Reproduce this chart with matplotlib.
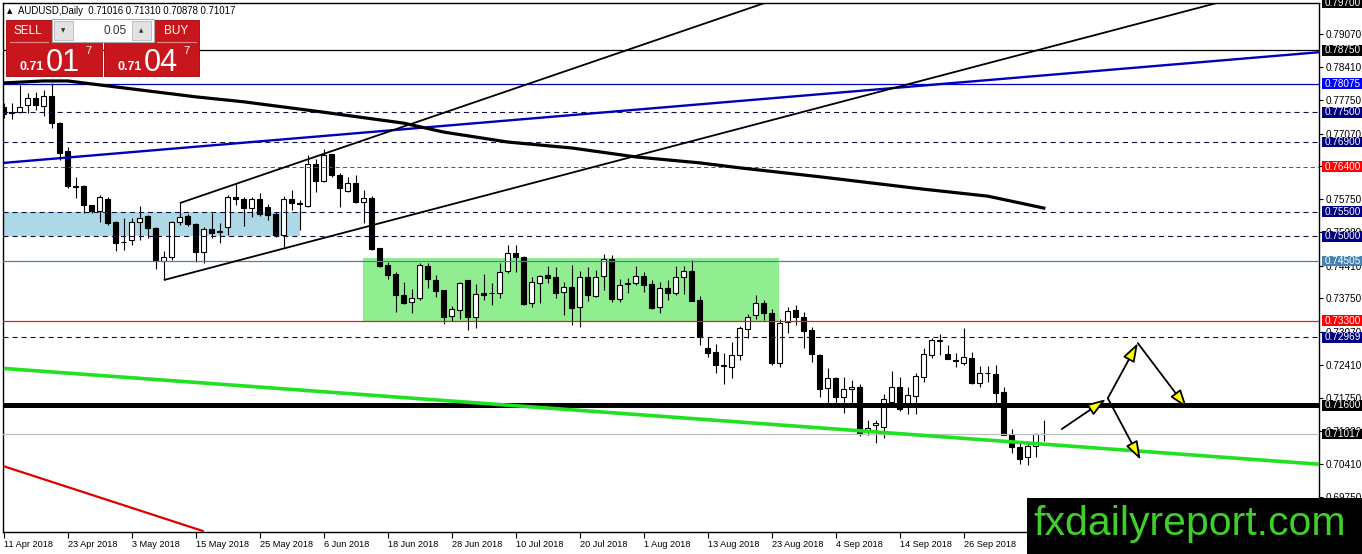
import matplotlib
matplotlib.use('Agg')
import numpy as np
import matplotlib.pyplot as plt
from matplotlib.patches import Rectangle

plt.rcParams['font.family'] = ['Liberation Sans', 'DejaVu Sans']
plt.rcParams['lines.scale_dashes'] = False

# ---- daily candles AUDUSD, 11 Apr 2018 .. 10 Oct 2018
opens = [0.7761, 0.7750, 0.7750, 0.7765, 0.7779, 0.7763, 0.7783, 0.7728, 0.7672, 0.7601,
         0.7601, 0.7563, 0.7551, 0.7575, 0.7529, 0.7489, 0.7493, 0.7529, 0.7541, 0.7517,
         0.7450, 0.7458, 0.7529, 0.7541, 0.7525, 0.7468, 0.7515, 0.7509, 0.7519, 0.7579,
         0.7575, 0.7557, 0.7575, 0.7559, 0.7545, 0.7503, 0.7575, 0.7567, 0.7561, 0.7646,
         0.7611, 0.7666, 0.7624, 0.7591, 0.7607, 0.7569, 0.7577, 0.7476, 0.7442, 0.7424,
         0.7382, 0.7368, 0.7376, 0.7440, 0.7412, 0.7392, 0.7340, 0.7352, 0.7412, 0.7338,
         0.7386, 0.7386, 0.7386, 0.7430, 0.7466, 0.7458, 0.7366, 0.7406, 0.7422, 0.7418,
         0.7388, 0.7398, 0.7358, 0.7418, 0.7380, 0.7420, 0.7454, 0.7374, 0.7404, 0.7406,
         0.7420, 0.7404, 0.7358, 0.7396, 0.7386, 0.7418, 0.7430, 0.7372, 0.7275, 0.7267,
         0.7239, 0.7237, 0.7261, 0.7313, 0.7342, 0.7366, 0.7346, 0.7245, 0.7327, 0.7352,
         0.7338, 0.7311, 0.7261, 0.7195, 0.7215, 0.7176, 0.7193, 0.7197, 0.7108, 0.7120,
         0.7116, 0.7166, 0.7197, 0.7156, 0.7178, 0.7217, 0.7261, 0.7289, 0.7263, 0.7249,
         0.7245, 0.7255, 0.7205, 0.7225, 0.7223, 0.7187, 0.7102, 0.7076, 0.7056, 0.7078,
         0.71016]
highs = [0.7769, 0.7769, 0.7805, 0.7789, 0.7791, 0.7795, 0.7809, 0.7730, 0.7680, 0.7620,
         0.7603, 0.7564, 0.7583, 0.7579, 0.7530, 0.7537, 0.7537, 0.7561, 0.7543, 0.7518,
         0.7470, 0.7531, 0.7567, 0.7545, 0.7527, 0.7519, 0.7547, 0.7527, 0.7583, 0.7605,
         0.7579, 0.7579, 0.7587, 0.7565, 0.7549, 0.7581, 0.7593, 0.7573, 0.7664, 0.7656,
         0.7676, 0.7666, 0.7628, 0.7620, 0.7624, 0.7593, 0.7581, 0.7476, 0.7448, 0.7428,
         0.7408, 0.7394, 0.7446, 0.7446, 0.7422, 0.7392, 0.7360, 0.7408, 0.7412, 0.7404,
         0.7424, 0.7406, 0.7446, 0.7483, 0.7483, 0.7460, 0.7418, 0.7422, 0.7440, 0.7438,
         0.7408, 0.7442, 0.7430, 0.7438, 0.7432, 0.7464, 0.7462, 0.7414, 0.7416, 0.7440,
         0.7428, 0.7412, 0.7408, 0.7412, 0.7440, 0.7440, 0.7452, 0.7380, 0.7297, 0.7283,
         0.7265, 0.7287, 0.7319, 0.7344, 0.7382, 0.7372, 0.7354, 0.7334, 0.7358, 0.7362,
         0.7348, 0.7317, 0.7263, 0.7235, 0.7217, 0.7217, 0.7211, 0.7203, 0.7130, 0.7130,
         0.7183, 0.7229, 0.7217, 0.7197, 0.7225, 0.7275, 0.7295, 0.7303, 0.7281, 0.7265,
         0.7315, 0.7267, 0.7239, 0.7239, 0.7241, 0.7197, 0.7112, 0.7086, 0.7086, 0.7104,
         0.71310]
lows = [0.7738, 0.7736, 0.7748, 0.7748, 0.7754, 0.7742, 0.7718, 0.7654, 0.7597, 0.7577,
        0.7547, 0.7547, 0.7529, 0.7523, 0.7471, 0.7472, 0.7483, 0.7493, 0.7497, 0.7434,
        0.7414, 0.7452, 0.7523, 0.7521, 0.7448, 0.7446, 0.7497, 0.7487, 0.7503, 0.7563,
        0.7521, 0.7539, 0.7541, 0.7533, 0.7499, 0.7479, 0.7553, 0.7513, 0.7559, 0.7589,
        0.7609, 0.7620, 0.7559, 0.7589, 0.7567, 0.7527, 0.7472, 0.7438, 0.7414, 0.7348,
        0.7364, 0.7346, 0.7372, 0.7396, 0.7378, 0.7323, 0.7330, 0.7334, 0.7311, 0.7315,
        0.7372, 0.7362, 0.7376, 0.7426, 0.7428, 0.7362, 0.7358, 0.7366, 0.7406, 0.7376,
        0.7342, 0.7321, 0.7317, 0.7370, 0.7378, 0.7392, 0.7368, 0.7368, 0.7386, 0.7402,
        0.7388, 0.7354, 0.7346, 0.7372, 0.7382, 0.7384, 0.7370, 0.7281, 0.7257, 0.7225,
        0.7203, 0.7215, 0.7251, 0.7295, 0.7334, 0.7332, 0.7241, 0.7237, 0.7305, 0.7321,
        0.7275, 0.7247, 0.7176, 0.7162, 0.7164, 0.7144, 0.7164, 0.7098, 0.7100, 0.7084,
        0.7094, 0.7164, 0.7148, 0.7142, 0.7142, 0.7207, 0.7255, 0.7261, 0.7253, 0.7237,
        0.7241, 0.7203, 0.7197, 0.7207, 0.7164, 0.7100, 0.7064, 0.7042, 0.7040, 0.7056,
        0.70878]
closes = [0.7746, 0.7749, 0.7761, 0.7779, 0.7765, 0.7783, 0.7728, 0.7668, 0.7601, 0.7599,
          0.7563, 0.7551, 0.7579, 0.7527, 0.7487, 0.7488, 0.7529, 0.7537, 0.7517, 0.7450,
          0.7458, 0.7529, 0.7539, 0.7525, 0.7468, 0.7515, 0.7507, 0.7510, 0.7579, 0.7575,
          0.7557, 0.7575, 0.7545, 0.7543, 0.7503, 0.7575, 0.7567, 0.7566, 0.7646, 0.7611,
          0.7664, 0.7624, 0.7597, 0.7607, 0.7569, 0.7577, 0.7474, 0.7440, 0.7422, 0.7382,
          0.7366, 0.7376, 0.7442, 0.7414, 0.7390, 0.7338, 0.7354, 0.7406, 0.7338, 0.7384,
          0.7382, 0.7385, 0.7428, 0.7466, 0.7458, 0.7364, 0.7408, 0.7420, 0.7416, 0.7386,
          0.7398, 0.7356, 0.7418, 0.7382, 0.7418, 0.7454, 0.7374, 0.7402, 0.7406, 0.7420,
          0.7402, 0.7356, 0.7396, 0.7386, 0.7418, 0.7430, 0.7370, 0.7297, 0.7265, 0.7241,
          0.7240, 0.7261, 0.7315, 0.7338, 0.7366, 0.7346, 0.7245, 0.7325, 0.7350, 0.7338,
          0.7309, 0.7263, 0.7193, 0.7215, 0.7176, 0.7193, 0.7197, 0.7104, 0.7114, 0.7124,
          0.7172, 0.7197, 0.7152, 0.7180, 0.7219, 0.7263, 0.7291, 0.7291, 0.7253, 0.7250,
          0.7257, 0.7205, 0.7225, 0.7224, 0.7185, 0.7100, 0.7076, 0.7052, 0.7078, 0.7102,
          0.71017]

date_idx = [0, 8, 16, 24, 32, 40, 48, 56, 64, 72, 80, 88, 96, 104, 112, 120]
date_labels = ['11 Apr 2018', '23 Apr 2018', '3 May 2018', '15 May 2018', '25 May 2018',
               '6 Jun 2018', '18 Jun 2018', '28 Jun 2018', '10 Jul 2018', '20 Jul 2018',
               '1 Aug 2018', '13 Aug 2018', '23 Aug 2018', '4 Sep 2018', '14 Sep 2018',
               '26 Sep 2018']

# right scale
price_ticks = [0.79070, 0.78410, 0.77750, 0.77070, 0.76410, 0.75750, 0.75080, 0.74410,
               0.73750, 0.73070, 0.72410, 0.71750, 0.71080, 0.70410, 0.69750]
levels = [0.79700, 0.78750, 0.78075, 0.77500, 0.76900, 0.76400, 0.75500, 0.75000,
          0.74505, 0.73300, 0.72969, 0.71600, 0.71017]

# slow moving average (sampled along the curve)
ma_idx = [0, 5, 8, 12, 24, 30, 40, 50, 55, 63, 71, 79, 87, 92, 102, 115, 123, 130]
ma_val = [0.7809, 0.7813, 0.7813, 0.7805, 0.7781, 0.7771, 0.7750, 0.7728, 0.7710, 0.7690,
          0.7678, 0.7660, 0.7648, 0.7638, 0.7620, 0.7595, 0.7581, 0.7557]

# trend lines (bar index, price)
blue_trend = [(0, 0.7648), (164.5, 0.7871)]
green_trend = [(0, 0.7234), (164.5, 0.7041)]
red_trend = [(0, 0.7037), (25, 0.6906)]
channel_steep = [(22, 0.7567), (100, 0.7997)]
channel_flat = [(20, 0.7412), (158, 0.7997)]

# zones (bar from, bar to, price low, price high)
blue_zone = (-1, 37, 0.7500, 0.7550)
green_zone = (44.9, 96.9, 0.7330, 0.7456)

# scenario arrows (start, end)
arrows = [((132.25, 0.7112), (137.75, 0.7172)),
          ((138.0, 0.7174), (141.75, 0.7285)),
          ((141.75, 0.7285), (147.9, 0.7154)),
          ((138.0, 0.7174), (142.1, 0.7050))]

W, H = 1362, 554
fig = plt.figure(figsize=(W / 100, H / 100), dpi=100)
ax = fig.add_axes([3 / W, 1 - 532 / H, 1316 / W, 529 / H])
ax.set_xlim(-0.1, 164.4)
ax.set_ylim(0.69046, 0.79700)

n = len(opens)
x = np.arange(n)
o = np.array(opens)
c = np.array(closes)

# zones
for z, col in [(blue_zone, '#add8e6'), (green_zone, '#90ee90')]:
    ax.add_patch(Rectangle((z[0], z[2]), z[1] - z[0], z[3] - z[2], fc=col, ec='none', zorder=1))

# candles
ax.vlines(x, lows, highs, color='black', lw=0.8, zorder=3)
body_low = np.minimum(o, c)
body_h = np.maximum(np.abs(c - o), 0.00003)
cols = ['white' if cc >= oo else 'black' for oo, cc in zip(o, c)]
ax.bar(x, body_h, width=0.62, bottom=body_low, color=cols, edgecolor='black',
       linewidth=0.8, zorder=4)

# horizontal levels
dash = (0, (3.6, 2.9))
styles = {
    0.78750: dict(color='black', lw=0.9, ls='-'),
    0.78075: dict(color='#0000cc', lw=0.9, ls='-'),
    0.77500: dict(color='#101040', lw=0.8, ls=dash),
    0.76900: dict(color='#101040', lw=0.8, ls=dash),
    0.76400: dict(color='#cc2222', lw=0.7, ls=(0, (3.0, 2.2))),
    0.75500: dict(color='#101040', lw=0.8, ls=dash),
    0.75000: dict(color='#101040', lw=0.8, ls=dash),
    0.74505: dict(color='#4682b4', lw=0.9, ls='-'),
    0.73300: dict(color='#dd2020', lw=0.9, ls='-'),
    0.72969: dict(color='#101040', lw=0.8, ls=dash),
    0.71600: dict(color='black', lw=3.6, ls='-'),
    0.71017: dict(color='#c0c0c0', lw=0.9, ls='-'),
}
for lv, st in styles.items():
    ax.axhline(lv, zorder=5, **st)

# trend lines and average
for pts, col, lw in [(blue_trend, '#0000bb', 1.7), (green_trend, '#22e022', 2.6),
                     (red_trend, '#dd0000', 1.6), (channel_steep, 'black', 1.3),
                     (channel_flat, 'black', 1.3)]:
    ax.plot([p[0] for p in pts], [p[1] for p in pts], color=col, lw=lw, zorder=6,
            solid_capstyle='butt')
ax.plot(ma_idx, ma_val, color='black', lw=2.3, zorder=6)

for start, end in arrows:
    ax.annotate('', xy=end, xytext=start, zorder=7,
                arrowprops=dict(arrowstyle='-|>,head_length=0.7,head_width=0.24',
                                mutation_scale=16, fc='#ffff00', ec='black', lw=1.3,
                                shrinkA=0, shrinkB=0))

# axes look
for sp in ax.spines.values():
    sp.set_color('black')
    sp.set_linewidth(1.0)
ax.yaxis.tick_right()
ax.set_yticks(price_ticks)
ax.set_yticklabels(['%.5f' % p for p in price_ticks])
ax.set_xticks(date_idx)
ax.set_xticklabels(date_labels)
for lab in ax.get_xticklabels():
    lab.set_ha('left')
ax.tick_params(axis='y', direction='out', length=3, width=0.8, pad=2, labelsize=7.2)
ax.tick_params(axis='x', direction='out', length=4, width=0.8, pad=1.5, labelsize=6.6)

# coloured price labels on the right scale
lab_col = {0.79700: 'black', 0.78750: 'black', 0.78075: '#0000ff', 0.77500: '#000080',
           0.76900: '#000080', 0.76400: '#ff0000', 0.75500: '#000080', 0.75000: '#000080',
           0.74505: '#4682b4', 0.73300: '#ff0000', 0.72969: '#000080', 0.71600: 'black',
           0.71017: 'black'}
tr = ax.get_yaxis_transform()
bh = 0.00108
for lv in levels:
    ax.add_patch(Rectangle((1.0023, lv - bh), 0.031, 2 * bh, transform=tr, fc=lab_col[lv],
                           ec='none', clip_on=False, zorder=8))
    ax.text(1.0046, lv, '%.5f' % lv, transform=tr, color='white', fontsize=7.2,
            va='center', ha='left', zorder=9, clip_on=False)

# ---- overlay: header, one-click panel, watermark
ov = fig.add_axes([0, 0, 1, 1], zorder=10)
ov.set_xlim(0, W)
ov.set_ylim(H, 0)
ov.axis('off')

ov.text(7, 11, '\u25b2', fontsize=5, va='center', ha='left', family=['DejaVu Sans'])
ov.text(18, 11, 'AUDUSD,Daily  0.71016 0.71310 0.70878 0.71017', fontsize=6.9,
        va='center', ha='left', color='black')

ov.add_patch(Rectangle((6, 20), 96, 56, fc='#c8161c', ec='#a00000', lw=0.6))
ov.add_patch(Rectangle((104, 20), 95, 56, fc='#c8161c', ec='#a00000', lw=0.6))
ov.add_patch(Rectangle((52, 19), 102, 23, fc='white', ec='#a8a8a8', lw=0.8))
ov.add_patch(Rectangle((54, 21), 19, 19, fc='#e2e2e2', ec='#b8b8b8', lw=0.6))
ov.add_patch(Rectangle((132, 21), 19, 19, fc='#e2e2e2', ec='#b8b8b8', lw=0.6))
ov.text(63.5, 31, '\u25bc', fontsize=4, ha='center', va='center', color='#333333',
        family=['DejaVu Sans'])
ov.text(141.5, 31, '\u25b2', fontsize=4, ha='center', va='center', color='#333333',
        family=['DejaVu Sans'])
ov.text(127, 31, '0.05', fontsize=8.5, ha='right', va='center', color='#333333')
ov.text(28, 31, 'SELL', fontsize=8.5, ha='center', va='center', color='white')
ov.text(176, 31, 'BUY', fontsize=8.5, ha='center', va='center', color='white')
ov.plot([10, 48], [42, 42], color='#e88888', lw=0.8)
ov.plot([157, 196], [42, 42], color='#e88888', lw=0.8)

for x0, big in [(19, '01'), (117, '04')]:
    ov.text(x0, 70, '0.71', fontsize=9, fontweight='bold', color='white', va='baseline')
    ov.text(x0 + 27, 71, big, fontsize=22, color='white', va='baseline')
    ov.text(x0 + 66, 46, '7', fontsize=8, color='white', va='top')

ov.add_patch(Rectangle((1027, 498), 335, 56, fc='black', ec='none'))
ov.text(1033, 535, 'fxdailyreport.com', fontsize=29.5, color='#3fcf2a', va='baseline',
        ha='left')

fig.savefig('out.png', dpi=100)
